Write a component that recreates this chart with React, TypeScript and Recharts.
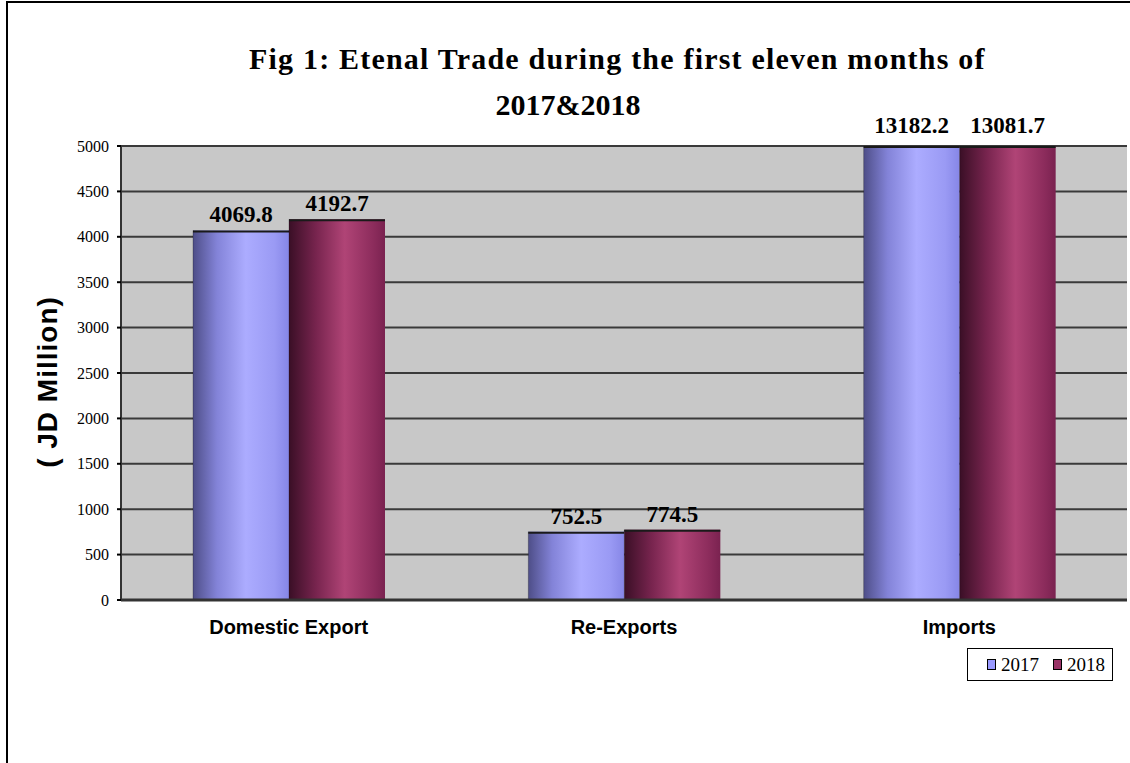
import React from "react";
import {
  BarChart,
  Bar,
  XAxis,
  YAxis,
  CartesianGrid,
  LabelList,
} from "recharts";

const categories = ["Domestic Export", "Re-Exports", "Imports"];
const values2017 = [4069.8, 752.5, 13182.2];
const values2018 = [4192.7, 774.5, 13081.7];
const yTicks = [0, 500, 1000, 1500, 2000, 2500, 3000, 3500, 4000, 4500, 5000];
const seriesNames = ["2017", "2018"];

const data = categories.map((name, i) => ({
  name,
  pos: i + 0.5,
  y2017: values2017[i],
  y2018: values2018[i],
}));

const WIDTH = 1130;
const HEIGHT = 763;
const MARGIN = { top: 146, right: 3, bottom: 133, left: 0 };
const SERIF = "'Liberation Serif', 'Times New Roman', serif";
const SANS = "'Liberation Sans', Arial, sans-serif";

const BarShape = (props: any) => {
  const { x, width, y, height, gradId } = props;
  const bottom = y + height;
  const top = Math.max(y, MARGIN.top);
  const h = Math.max(bottom - top, 0);
  return (
    <g>
      <rect x={x} y={top} width={width} height={h} fill={`url(#${gradId})`} />
      <line x1={x} x2={x + width} y1={top + 1} y2={top + 1} stroke="#1a1a1a" strokeWidth={2} />
      <line x1={x} x2={x} y1={top} y2={bottom} stroke="rgba(0,0,0,0.25)" strokeWidth={1} />
    </g>
  );
};

const ValueLabel = (props: any) => {
  const { x, y, width, value } = props;
  const clipped = y < MARGIN.top;
  const top = Math.max(y, MARGIN.top);
  return (
    <text
      x={x + width / 2}
      y={top - (clipped ? 13 : 8)}
      textAnchor="middle"
      fontFamily={SERIF}
      fontWeight="bold"
      fontSize={23}
      fill="#000"
    >
      {Number(value).toFixed(1)}
    </text>
  );
};

const LegendBox = () => (
  <div
    style={{
      position: "absolute",
      left: 967,
      top: 648,
      border: "1.5px solid #000",
      width: 146,
      height: 33,
      display: "flex",
      alignItems: "center",
      justifyContent: "flex-end",
      paddingRight: 7,
      boxSizing: "border-box",
      fontFamily: SERIF,
      fontSize: 19,
      color: "#000",
      background: "#fff",
    }}
  >
    {[
      { label: seriesNames[0], color: "#9999FF" },
      { label: seriesNames[1], color: "#993366" },
    ].map((it, i) => (
      <span key={it.label} style={{ display: "flex", alignItems: "center", marginLeft: i ? 14 : 0 }}>
        <span
          style={{
            width: 7,
            height: 9,
            background: it.color,
            border: "1px solid #000",
            marginRight: 5,
            display: "inline-block",
          }}
        />
        {it.label}
      </span>
    ))}
  </div>
);

export default function App() {
  return (
    <div style={{ position: "relative", width: WIDTH, height: HEIGHT, overflow: "hidden", background: "#fff" }}>
      <style>{`body{margin:0}`}</style>
      <div
        style={{
          position: "absolute",
          left: 6,
          top: 1,
          width: WIDTH + 10,
          height: HEIGHT + 10,
          border: "2px solid #000",
          boxSizing: "border-box",
        }}
      />
      <div
        style={{
          position: "absolute",
          left: 249,
          top: 36,
          whiteSpace: "nowrap",
          fontFamily: SERIF,
          fontWeight: "bold",
          fontSize: 30,
          letterSpacing: 1.2,
          lineHeight: "46px",
          color: "#000",
        }}
      >
        Fig 1: Etenal Trade during the first eleven months of
      </div>
      <div
        style={{
          position: "absolute",
          left: 0,
          top: 82,
          width: 1136,
          textAlign: "center",
          fontFamily: SERIF,
          fontWeight: "bold",
          fontSize: 30,
          lineHeight: "46px",
          color: "#000",
        }}
      >
        2017&amp;2018
      </div>
      <div
        style={{
          position: "absolute",
          left: 48,
          top: 382,
          transform: "translate(-50%, -50%) rotate(-90deg)",
          whiteSpace: "nowrap",
          fontFamily: SANS,
          fontWeight: "bold",
          fontSize: 28,
          letterSpacing: 1,
          color: "#000",
        }}
      >
        ( JD Million)
      </div>
      <div style={{ position: "absolute", left: 0, top: 0 }}>
        <BarChart width={WIDTH} height={HEIGHT} data={data} margin={MARGIN} barGap={0}>
          <defs>
            <linearGradient id="g2017" x1="0" y1="0" x2="1" y2="0">
              <stop offset="0%" stopColor="#4e4e88" />
              <stop offset="25%" stopColor="#8383d8" />
              <stop offset="55%" stopColor="#acacff" />
              <stop offset="85%" stopColor="#9a9af4" />
              <stop offset="100%" stopColor="#8686e6" />
            </linearGradient>
            <linearGradient id="g2018" x1="0" y1="0" x2="1" y2="0">
              <stop offset="0%" stopColor="#3a0f26" />
              <stop offset="28%" stopColor="#77244e" />
              <stop offset="58%" stopColor="#b04476" />
              <stop offset="88%" stopColor="#8c2c5c" />
              <stop offset="100%" stopColor="#7a2250" />
            </linearGradient>
          </defs>
          <CartesianGrid
            vertical={false}
            stroke="#3a3a3a"
            strokeWidth={2}
            fill="#c8c8c8"
            fillOpacity={1}
          />
          <XAxis
            xAxisId="frame"
            type="number"
            dataKey="pos"
            domain={[0, 3]}
            ticks={[0, 1, 2, 3]}
            tick={false}
            axisLine={false}
            tickLine={{ stroke: "#000", strokeWidth: 2 }}
            tickSize={5}
            height={0}
          />
          <XAxis
            xAxisId="cat"
            dataKey="name"
            axisLine={{ stroke: "#333", strokeWidth: 3 }}
            tickLine={false}
            tickSize={0}
            tickMargin={20}
            interval={0}
            tick={{ fontFamily: SANS, fontWeight: "bold", fontSize: 20, fill: "#000" }}
          />
          <YAxis
            domain={[0, 5000]}
            ticks={yTicks}
            allowDataOverflow
            width={121}
            axisLine={{ stroke: "#333", strokeWidth: 2 }}
            tickLine={{ stroke: "#000", strokeWidth: 2 }}
            tickSize={4}
            tickMargin={8}
            tick={{ fontFamily: SERIF, fontSize: 16, fill: "#000" }}
          />
          <Bar
            xAxisId="cat"
            dataKey="y2017"
            name={seriesNames[0]}
            fill="#9999FF"
            barSize={96}
            isAnimationActive={false}
            shape={(p: any) => <BarShape {...p} gradId="g2017" />}
          >
            <LabelList dataKey="y2017" content={ValueLabel} />
          </Bar>
          <Bar
            xAxisId="cat"
            dataKey="y2018"
            name={seriesNames[1]}
            fill="#993366"
            barSize={96}
            isAnimationActive={false}
            shape={(p: any) => <BarShape {...p} gradId="g2018" />}
          >
            <LabelList dataKey="y2018" content={ValueLabel} />
          </Bar>
        </BarChart>
      </div>
      <LegendBox />
    </div>
  );
}
